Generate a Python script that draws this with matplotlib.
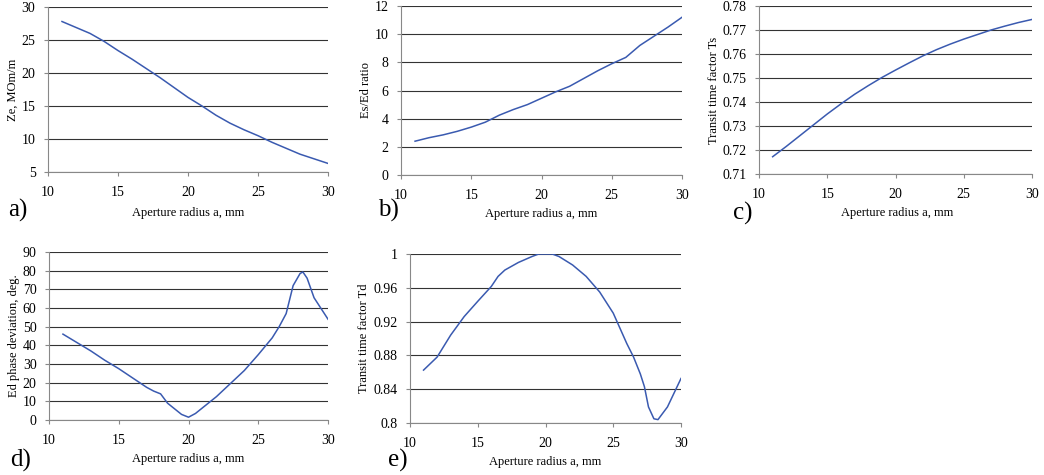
import matplotlib
matplotlib.use("Agg")
import matplotlib.pyplot as plt
import numpy as np

plt.rcParams['font.family'] = ['Liberation Serif', 'DejaVu Serif']

# a) Ze vs aperture radius
x_a = [11, 12, 13, 14, 15, 16, 17, 18, 19, 20, 21, 22, 23, 24, 25, 26, 27, 28, 29, 30]
ze = [27.8, 26.9, 26.0, 24.8, 23.4, 22.1, 20.7, 19.3, 17.8, 16.3, 15.0, 13.6, 12.4,
      11.4, 10.5, 9.5, 8.6, 7.7, 7.0, 6.3]

# b) Es/Ed ratio
x_b = x_a
es_ed = [2.4, 2.65, 2.85, 3.1, 3.4, 3.75, 4.25, 4.65, 5.0, 5.45, 5.9, 6.3, 6.85, 7.4,
         7.9, 8.35, 9.2, 9.85, 10.5, 11.2]

# c) transit time factor Ts
x_c = x_a
ts = [0.7172, 0.7215, 0.7260, 0.7305, 0.7350, 0.7392, 0.7432, 0.7468, 0.7502, 0.7533,
      0.7563, 0.7592, 0.7618, 0.7641, 0.7662, 0.7681, 0.7700, 0.7716, 0.7731, 0.7744]

# d) Ed phase deviation
x_d = [11, 12, 13, 14, 15, 16, 17, 17.5, 18, 18.5, 19, 19.5, 20, 20.5, 21, 22, 23, 24,
       25, 26, 26.5, 27, 27.5, 28, 28.2, 28.5, 29, 30]
phase = [46, 41.5, 37, 32, 27.5, 22.5, 17.5, 15.5, 14, 9, 6, 3, 1.5, 3.5, 6.5, 12.5,
         19.5, 26.5, 35, 44, 50, 57, 72, 78.5, 79.3, 76, 65.5, 54]

# e) transit time factor Td
x_e = [11, 12, 13, 14, 15, 16, 16.5, 17, 18, 19, 19.5, 20, 20.5, 21, 22, 23, 24, 25,
       26, 26.5, 27, 27.3, 27.6, 28, 28.3, 29, 30]
td = [0.8626, 0.878, 0.904, 0.926, 0.944, 0.9616, 0.9735, 0.981, 0.990, 0.997, 1.0,
      1.0, 1.0, 0.997, 0.987, 0.9735, 0.955, 0.930, 0.894, 0.878, 0.858, 0.843, 0.819,
      0.805, 0.804, 0.819, 0.8527]

W, H = 1044, 475
fig = plt.figure(figsize=(W / 100, H / 100), dpi=100)

LINE = '#3a5ab0'
TICK_FS = 10
LABEL_FS = 9


def make_axes(l, t, r, b):
    return fig.add_axes([l / W, 1 - b / H, (r - l) / W, (b - t) / H])


def panel(box, x, y, ylim, yticks, yfmt, ylabel, letter, letter_xy, xlabel_xy):
    ax = make_axes(*box)
    ax.plot(x, y, color=LINE, lw=1.1)
    ax.set_xlim(10, 30)
    ax.set_ylim(*ylim)
    ax.set_xticks([10, 15, 20, 25, 30])
    ax.set_yticks(yticks)
    ax.set_yticklabels([yfmt(v) for v in yticks])
    ax.yaxis.grid(True, color='#333333', lw=0.8)
    ax.set_axisbelow(True)
    for s in ['top', 'right']:
        ax.spines[s].set_visible(False)
    for s in ['left', 'bottom']:
        ax.spines[s].set_color('#888888')
        ax.spines[s].set_linewidth(0.8)
    ax.tick_params(labelsize=TICK_FS, length=3, width=0.8, color='#888888')
    ax.tick_params(axis='x', pad=7)
    ax.tick_params(axis='y', pad=6)
    ax.set_ylabel(ylabel, fontsize=LABEL_FS, labelpad=2)
    fig.text(letter_xy[0] / W, 1 - letter_xy[1] / H, letter, fontsize=18,
             ha='left', va='center')
    fig.text(xlabel_xy[0] / W, 1 - xlabel_xy[1] / H, 'Aperture radius a, mm',
             fontsize=LABEL_FS, ha='center', va='center')
    return ax


panel((48, 7, 328, 172), x_a, ze, (5, 30), [5, 10, 15, 20, 25, 30],
      lambda v: f'{v:g}', 'Ze, MOm/m', 'a)', (8, 210), (188, 213))
panel((401, 6, 682, 175), x_b, es_ed, (0, 12), [0, 2, 4, 6, 8, 10, 12],
      lambda v: f'{v:g}', 'Es/Ed ratio', 'b)', (378, 210), (541, 214))
panel((759, 6, 1032, 174), x_c, ts, (0.71, 0.78),
      [0.71, 0.72, 0.73, 0.74, 0.75, 0.76, 0.77, 0.78],
      lambda v: f'{v:.2f}', 'Transit time factor Ts', 'c)', (733, 213), (897, 213))
panel((49, 252, 328, 420), x_d, phase, (0, 90), list(range(0, 91, 10)),
      lambda v: f'{v:g}', 'Ed phase deviation, deg.', 'd)', (10, 460), (188, 459))
panel((410, 254, 681, 423), x_e, td, (0.8, 1.0), [0.8, 0.84, 0.88, 0.92, 0.96, 1.0],
      lambda v: f'{v:g}', 'Transit time factor Td', 'e)', (388, 460), (545, 462))

fig.savefig('out.png', dpi=100)
